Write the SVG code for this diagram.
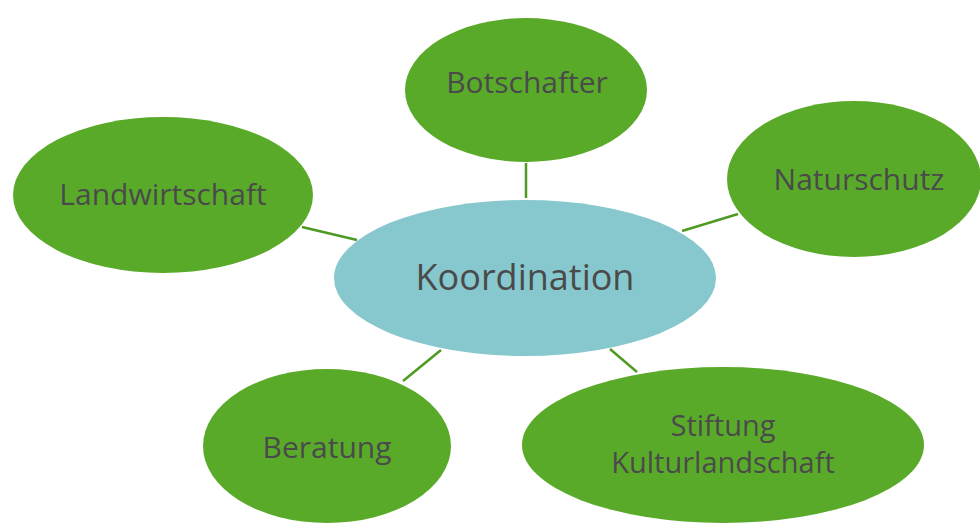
<svg xmlns="http://www.w3.org/2000/svg" width="980" height="523" viewBox="0 0 980 523">
<style>
.leaf{fill:#5AAA2A}
.hub{fill:#86C8CE}
.lbl{font-family:"Open Sans","Noto Sans",sans-serif;fill:#4A4A4A;text-anchor:middle;font-size:30px}
.con line{stroke:#4E9A22;stroke-width:2.5}
</style>
<rect width="980" height="523" fill="#fff"/>
<g class="con" id="connectors">
<line x1="526" y1="163" x2="526" y2="198"/>
<line x1="682" y1="231" x2="738" y2="214"/>
<line x1="302" y1="227" x2="357" y2="240"/>
<line x1="403" y1="381" x2="441" y2="350"/>
<line x1="610" y1="349" x2="637" y2="372"/>
</g>
<g id="koordination"><ellipse class="hub" cx="525" cy="278" rx="191" ry="78"/><text class="lbl" x="525" y="290" style="font-size:36px">Koordination</text></g>
<g id="botschafter"><ellipse class="leaf" cx="526" cy="90" rx="121" ry="72"/><text class="lbl" x="527" y="93">Botschafter</text></g>
<g id="naturschutz"><ellipse class="leaf" cx="854" cy="179" rx="127" ry="78"/><text class="lbl" x="859" y="190">Naturschutz</text></g>
<g id="landwirtschaft"><ellipse class="leaf" cx="163" cy="195" rx="150" ry="78"/><text class="lbl" x="163" y="205">Landwirtschaft</text></g>
<g id="beratung"><ellipse class="leaf" cx="327" cy="446" rx="124" ry="77"/><text class="lbl" x="327" y="458">Beratung</text></g>
<g id="stiftung"><ellipse class="leaf" cx="723" cy="445" rx="201" ry="78"/><text class="lbl" x="723" y="436" style="font-size:29px">Stiftung</text><text class="lbl" x="723" y="473" style="font-size:29px">Kulturlandschaft</text></g>
</svg>
